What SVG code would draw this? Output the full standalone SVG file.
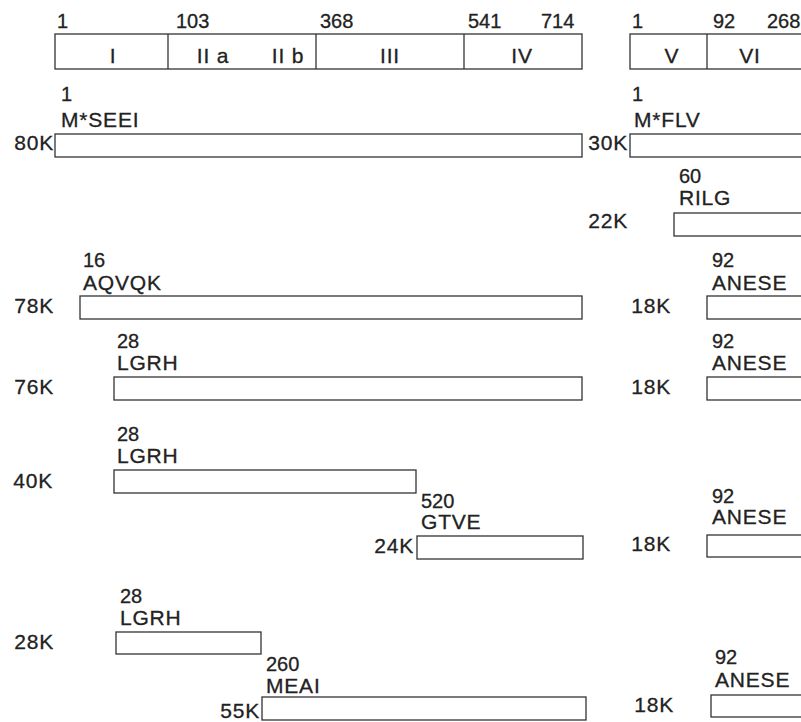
<svg xmlns="http://www.w3.org/2000/svg" width="801" height="722" viewBox="0 0 801 722">
<style>
text{font-family:"Liberation Sans",Arial,sans-serif;font-size:20px;fill:#222;stroke:#222;stroke-width:0.3}
.w{font-size:21px;letter-spacing:0.8px}
.e{text-anchor:end}
.m{text-anchor:middle}
.b{fill:#fff;stroke:#333;stroke-width:1.3}
</style>
<rect width="801" height="722" fill="#fff"/>
<g id="domains">
<text x="57" y="28">1</text><text x="176" y="28">103</text><text x="320" y="28">368</text><text x="468" y="28">541</text><text x="541" y="28">714</text>
<rect class="b" x="55" y="34" width="527" height="35"/>
<line class="b" x1="168" y1="34" x2="168" y2="69"/><line class="b" x1="316" y1="34" x2="316" y2="69"/><line class="b" x1="464" y1="34" x2="464" y2="69"/>
<text class="m w" x="113" y="63">I</text><text class="m w" x="213" y="63">II a</text><text class="m w" x="288" y="63">II b</text><text class="m w" x="390" y="63">III</text><text class="m w" x="522" y="63">IV</text>
</g>
<g id="domains2">
<text x="632" y="28">1</text><text x="713" y="28">92</text><text x="767" y="28">268</text>
<rect class="b" x="630" y="34" width="180" height="35"/>
<line class="b" x1="707" y1="34" x2="707" y2="69"/>
<text class="m w" x="672" y="63">V</text><text class="m w" x="750" y="63">VI</text>
</g>
<g id="p80K">
<text x="61" y="101">1</text><text class="w" x="61" y="127">M*SEEI</text>
<text class="e w" x="54" y="150">80K</text>
<rect class="b" x="55" y="134" width="527" height="23"/>
</g>
<g id="p30K">
<text x="632" y="101">1</text><text class="w" x="634" y="127">M*FLV</text>
<text class="e w" x="628" y="150">30K</text>
<rect class="b" x="630" y="134" width="180" height="23"/>
</g>
<g id="p22K">
<text x="679" y="183">60</text><text class="w" x="679" y="205">RILG</text>
<text class="e w" x="628" y="228">22K</text>
<rect class="b" x="674" y="213" width="140" height="23"/>
</g>
<g id="p78K">
<text x="83" y="267">16</text><text class="w" x="83" y="290">AQVQK</text>
<text class="e w" x="54" y="313">78K</text>
<rect class="b" x="80" y="296" width="502" height="23"/>
</g>
<g id="p18Ka">
<text x="712" y="267">92</text><text class="w" x="712" y="290">ANESE</text>
<text class="e w" x="671" y="313">18K</text>
<rect class="b" x="707" y="296" width="110" height="23"/>
</g>
<g id="p76K">
<text x="117" y="348">28</text><text class="w" x="117" y="370">LGRH</text>
<text class="e w" x="54" y="394">76K</text>
<rect class="b" x="114" y="377" width="468" height="23"/>
</g>
<g id="p18Kb">
<text x="712" y="348">92</text><text class="w" x="712" y="370">ANESE</text>
<text class="e w" x="671" y="394">18K</text>
<rect class="b" x="707" y="377" width="110" height="23"/>
</g>
<g id="p40K">
<text x="117" y="441">28</text><text class="w" x="117" y="463">LGRH</text>
<text class="e w" x="53" y="488">40K</text>
<rect class="b" x="114" y="470" width="302" height="23"/>
</g>
<g id="p24K">
<text x="421" y="508">520</text><text class="w" x="421" y="529">GTVE</text>
<text class="e w" x="414" y="553">24K</text>
<rect class="b" x="417" y="536" width="166" height="23"/>
</g>
<g id="p18Kc">
<text x="712" y="503">92</text><text class="w" x="712" y="524">ANESE</text>
<text class="e w" x="671" y="551">18K</text>
<rect class="b" x="707" y="535" width="110" height="22"/>
</g>
<g id="p28K">
<text x="120" y="603">28</text><text class="w" x="120" y="625">LGRH</text>
<text class="e w" x="54" y="649">28K</text>
<rect class="b" x="116" y="632" width="145" height="22"/>
</g>
<g id="p55K">
<text x="266" y="671">260</text><text class="w" x="266" y="693">MEAI</text>
<text class="e w" x="260" y="718">55K</text>
<rect class="b" x="262" y="697" width="324" height="23"/>
</g>
<g id="p18Kd">
<text x="715" y="664">92</text><text class="w" x="715" y="687">ANESE</text>
<text class="e w" x="674" y="712">18K</text>
<rect class="b" x="711" y="695" width="110" height="22"/>
</g>
<g id="connectors"/>
</svg>
